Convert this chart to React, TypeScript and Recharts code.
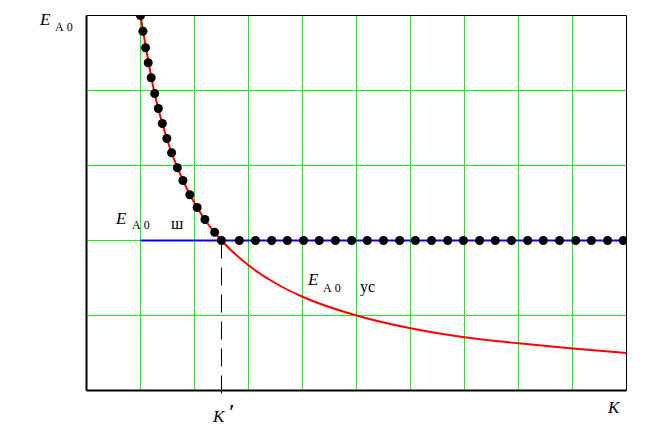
import React from 'react';
import {
  ComposedChart,
  Line,
  Scatter,
  XAxis,
  YAxis,
  CartesianGrid,
  ReferenceLine,
} from 'recharts';

// кривая E_A0 ус (красная)
const curveK = [1, 1.25, 1.5, 1.75, 2, 2.25, 2.5, 3, 3.5, 4, 5, 6, 7, 8, 9, 10];
const curveE = [5, 4, 3.33, 2.86, 2.5, 2.22, 2, 1.67, 1.43, 1.25, 1, 0.83, 0.71, 0.63, 0.56, 0.5];

// уровень E_A0 ш (синяя)
const levelK = [1, 10];
const levelE = [2, 2];

// результирующая (точки)
const dotsK = [
  1.0, 1.045, 1.093, 1.143, 1.198, 1.263, 1.33, 1.404, 1.488, 1.576, 1.682, 1.786, 1.913,
  2.049, 2.193, 2.373, 2.5,
  2.83, 3.13, 3.43, 3.72, 4.02, 4.31, 4.61, 4.91, 5.2, 5.5, 5.8, 6.09, 6.39, 6.69, 6.98,
  7.28, 7.57, 7.87, 8.17, 8.46, 8.76, 9.06, 9.35, 9.65, 9.94,
];
const dotsE = [
  5.0, 4.79, 4.57, 4.37, 4.17, 3.96, 3.76, 3.56, 3.36, 3.17, 2.97, 2.8, 2.61,
  2.44, 2.28, 2.11, 2,
  2, 2, 2, 2, 2, 2, 2, 2, 2, 2, 2, 2, 2, 2, 2,
  2, 2, 2, 2, 2, 2, 2, 2, 2, 2,
];

const kTicks = [0, 1, 2, 3, 4, 5, 6, 7, 8, 9, 10];
const eTicks = [0, 1, 2, 3, 4, 5];
const kPrime = 2.5;

const curve = curveK.map((x, i) => ({ x, y: curveE[i] }));
const level = levelK.map((x, i) => ({ x, y: levelE[i] }));
const dots = dotsK.map((x, i) => ({ x, y: dotsE[i] }));

const serif = "'Liberation Serif', 'DejaVu Serif', serif";
const ital = { fontFamily: serif, fontStyle: 'italic', fontSize: 17 } as const;
const small = { fontFamily: serif, fontSize: 12 } as const;
const cyr = { fontFamily: serif, fontSize: 16 } as const;

function Label({ x, y, sub2, sx, s2x, dy }: any) {
  return (
    <g fill="#000">
      <text x={x} y={y} style={ital}>E</text>
      <text x={sx} y={y + dy} style={small}>А 0</text>
      {sub2 ? <text x={s2x} y={y + dy} style={cyr}>{sub2}</text> : null}
    </g>
  );
}

export default function App() {
  return (
    <div style={{ position: 'absolute', left: 0, top: 0, width: 671, height: 438, background: '#fff' }}>
      <ComposedChart
        width={671}
        height={438}
        margin={{ top: 15.5, left: 86.5, right: 44.5, bottom: 47.5 }}
      >
        <XAxis dataKey="x" type="number" domain={[0, 10]} ticks={kTicks} hide allowDataOverflow />
        <YAxis type="number" domain={[0, 5]} ticks={eTicks} hide allowDataOverflow />
        <CartesianGrid stroke="#00ff00" strokeWidth={1} />
        <ReferenceLine x={0} stroke="#000" strokeWidth={2} />
        <ReferenceLine y={0} stroke="#000" strokeWidth={2} />
        <ReferenceLine x={10} stroke="#000" strokeWidth={1} />
        <ReferenceLine y={5} stroke="#000" strokeWidth={1} />
        <ReferenceLine
          segment={[{ x: kPrime, y: 2 }, { x: kPrime, y: -0.1 }]}
          stroke="#000"
          strokeWidth={1}
          strokeDasharray="18 9"
          ifOverflow="visible"
        />
        <Line data={level} dataKey="y" stroke="#0000ff" strokeWidth={2} dot={false} isAnimationActive={false} />
        <Line data={curve} dataKey="y" type="monotone" stroke="#ff0000" strokeWidth={2} dot={false} isAnimationActive={false} />
        <Scatter data={dots} dataKey="y" fill="#000" shape="circle" isAnimationActive={false} />
      </ComposedChart>
      <svg
        width={671}
        height={438}
        style={{ position: 'absolute', left: 0, top: 0, pointerEvents: 'none' }}
      >
        <Label x={40} y={25} sx={55} dy={6} />
        <Label x={116} y={224} sx={132} dy={5} sub2="ш" s2x={171} />
        <Label x={308} y={285} sx={323} dy={7} sub2="ус" s2x={360} />
        <g fill="#000">
          <text x={213} y={422} style={ital}>K</text>
          <text x={229} y={419} style={{ fontFamily: serif, fontSize: 20, fontWeight: 'bold' }}>′</text>
          <text x={608} y={413} style={ital}>K</text>
        </g>
      </svg>
    </div>
  );
}
